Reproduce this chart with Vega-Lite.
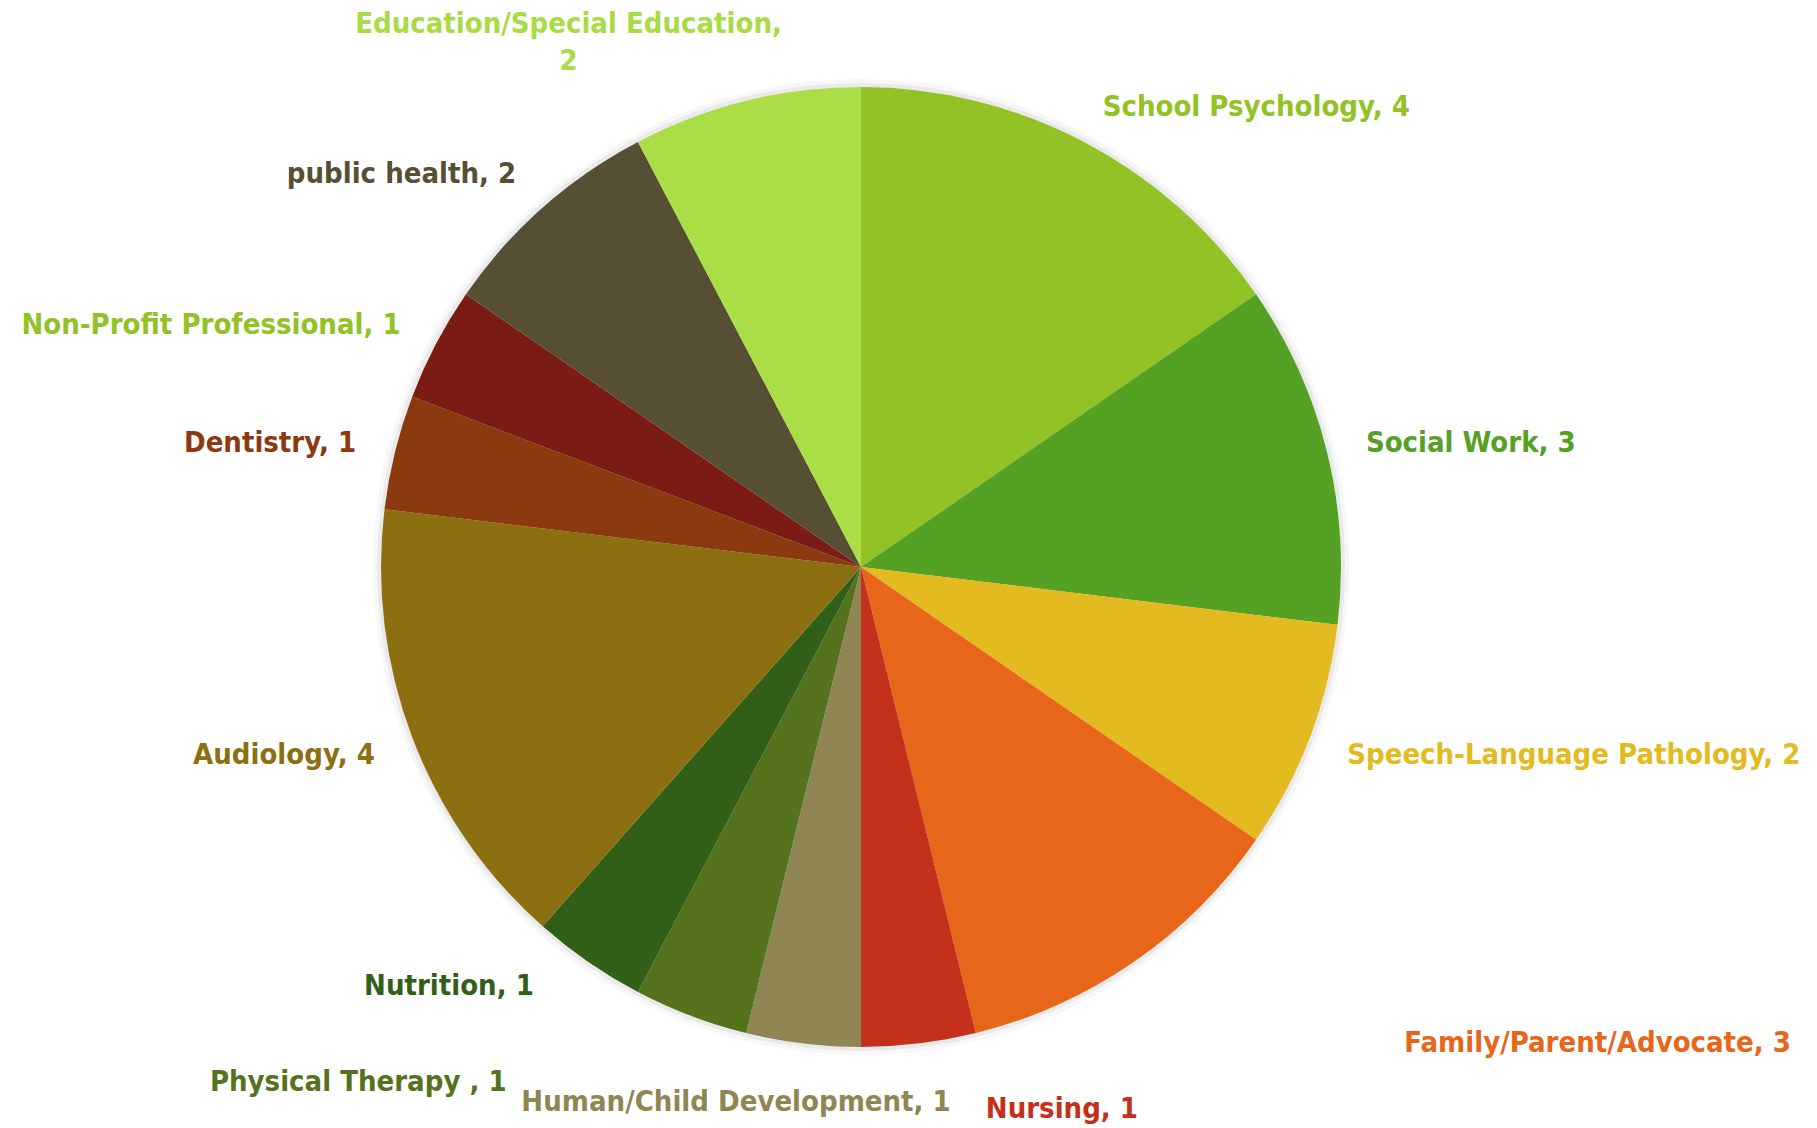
{
  "$schema": "https://vega.github.io/schema/vega-lite/v6.json",
  "width": 1722,
  "height": 1122,
  "autosize": {"type": "none"},
  "padding": {"left": 0, "top": 6, "right": 95, "bottom": 0},
  "background": "white",
  "view": {"stroke": null},
  "config": {"text": {"font": "DejaVu Sans Condensed", "fontWeight": "bold", "fontSize": 29, "baseline": "middle"}},
  "data": {
    "values": [
      {"category": "School Psychology", "value": 4, "order": 1},
      {"category": "Social Work", "value": 3, "order": 2},
      {"category": "Speech-Language Pathology", "value": 2, "order": 3},
      {"category": "Family/Parent/Advocate", "value": 3, "order": 4},
      {"category": "Nursing", "value": 1, "order": 5},
      {"category": "Human/Child Development", "value": 1, "order": 6},
      {"category": "Physical Therapy ", "value": 1, "order": 7},
      {"category": "Nutrition", "value": 1, "order": 8},
      {"category": "Audiology", "value": 4, "order": 9},
      {"category": "Dentistry", "value": 1, "order": 10},
      {"category": "Non-Profit Professional", "value": 1, "order": 11},
      {"category": "public health", "value": 2, "order": 12},
      {"category": "Education/Special Education", "value": 2, "order": 13}
    ]
  },
  "transform": [
    {"stack": "value", "groupby": [], "sort": [{"field": "order", "order": "ascending"}], "as": ["s0", "s1"]},
    {"calculate": "(datum.s0 + datum.s1) / 2", "as": "mid"},
    {"calculate": "datum.category + ', ' + datum.value", "as": "label"}
  ],
  "layer": [
    {
      "mark": {"type": "arc", "radius": 488, "color": "#000000", "opacity": 0.03},
      "encoding": {
        "theta": {"field": "s0", "type": "quantitative", "scale": {"domain": [0, 26], "zero": true, "nice": false}},
        "theta2": {"field": "s1"}
      }
    },
    {
      "mark": {"type": "arc", "radius": 484, "color": "#000000", "opacity": 0.05},
      "encoding": {
        "theta": {"field": "s0", "type": "quantitative"},
        "theta2": {"field": "s1"}
      }
    },
    {
      "mark": {"type": "arc", "radius": 480},
      "encoding": {
        "theta": {"field": "s0", "type": "quantitative"},
        "theta2": {"field": "s1"},
        "color": {
          "field": "category", "type": "nominal", "legend": null,
          "scale": {
            "domain": ["School Psychology", "Social Work", "Speech-Language Pathology", "Family/Parent/Advocate", "Nursing", "Human/Child Development", "Physical Therapy ", "Nutrition", "Audiology", "Dentistry", "Non-Profit Professional", "public health", "Education/Special Education"],
            "range": ["#92C225", "#55A124", "#E4BA21", "#E8661A", "#C4301B", "#8F8653", "#55731C", "#325F17", "#8C6F10", "#8B3A0F", "#7A1C13", "#574F33", "#ABDD46"]
          }
        }
      }
    },
    {
      "encoding": {
        "theta": {"field": "mid", "type": "quantitative"},
        "text": {"field": "label"},
        "color": {
          "field": "category", "type": "nominal", "legend": null,
          "scale": {
            "domain": ["School Psychology", "Social Work", "Speech-Language Pathology", "Family/Parent/Advocate", "Nursing", "Human/Child Development", "Physical Therapy ", "Nutrition", "Audiology", "Dentistry", "Non-Profit Professional", "public health", "Education/Special Education"],
            "range": ["#92C225", "#55A124", "#E4BA21", "#E8661A", "#C4301B", "#8F8653", "#55731C", "#325F17", "#8C6F10", "#8B3A0F", "#92C225", "#574F33", "#A9DB46"]
          }
        }
      },
      "layer": [
        {
          "transform": [{"filter": {"field": "category", "oneOf": ["School Psychology", "Social Work"]}}],
          "mark": {"type": "text", "radius": 520, "align": "left"}
        },
        {
          "transform": [{"filter": {"field": "category", "equal": "Speech-Language Pathology"}}],
          "mark": {"type": "text", "radius": 520, "align": "left", "dy": 4}
        },
        {
          "transform": [{"filter": {"field": "category", "oneOf": ["Dentistry", "Non-Profit Professional"]}}],
          "mark": {"type": "text", "radius": 520, "align": "right"}
        },
        {
          "transform": [{"filter": {"field": "category", "equal": "public health"}}],
          "mark": {"type": "text", "radius": 520, "align": "right", "dy": -4}
        },
        {
          "transform": [{"filter": {"field": "category", "equal": "Audiology"}}],
          "mark": {"type": "text", "radius": 520, "align": "right", "dy": 4}
        },
        {
          "transform": [{"filter": {"field": "category", "equal": "Family/Parent/Advocate"}}],
          "mark": {"type": "text", "radius": 578, "align": "left", "dx": 215}
        },
        {
          "transform": [{"filter": {"field": "category", "equal": "Nursing"}}],
          "mark": {"type": "text", "radius": 546, "align": "left", "dx": 59}
        },
        {
          "transform": [{"filter": {"field": "category", "equal": "Human/Child Development"}}],
          "mark": {"type": "text", "radius": 539, "align": "center", "dx": -60}
        },
        {
          "transform": [{"filter": {"field": "category", "equal": "Physical Therapy "}}],
          "mark": {"type": "text", "radius": 551, "align": "right", "dx": -159}
        },
        {
          "transform": [{"filter": {"field": "category", "equal": "Nutrition"}}],
          "mark": {"type": "text", "radius": 509, "align": "right", "dx": -38}
        },
        {
          "transform": [
            {"filter": {"field": "category", "equal": "Education/Special Education"}},
            {"calculate": "datum.category + ',\\n' + datum.value", "as": "label"}
          ],
          "mark": {"type": "text", "radius": 541, "align": "center", "dx": -163, "dy": -18, "lineBreak": "\n", "lineHeight": 37}
        }
      ]
    }
  ],
  "resolve": {"scale": {"color": "independent"}}
}
